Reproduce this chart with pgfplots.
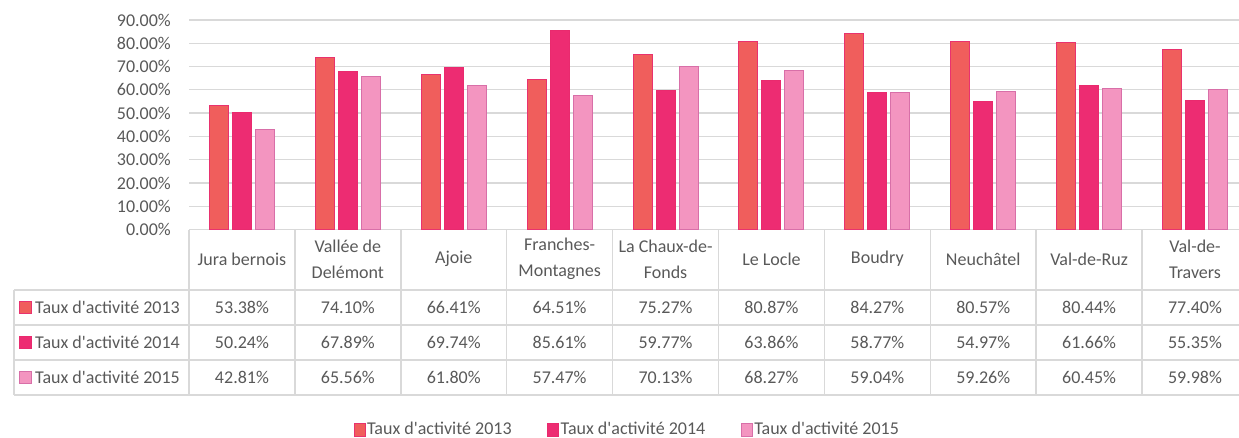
\documentclass[border=0pt]{standalone}
\usepackage{pgfplots}
\pgfplotsset{compat=1.18}
\usepackage{pgfplotstable}
\usepackage{fontspec}
\setmainfont{Carlito}[Ligatures=TeXOff]
\definecolor{txt}{RGB}{89,89,89}
\definecolor{gridc}{RGB}{217,217,217}
\definecolor{cA}{RGB}{240,94,92}
\definecolor{cAb}{RGB}{233,50,110}
\definecolor{cB}{RGB}{237,44,114}
\definecolor{cBb}{RGB}{233,42,110}
\definecolor{cC}{RGB}{243,149,192}
\definecolor{cCb}{RGB}{216,111,168}
\newcommand\f{\fontsize{18}{26}\selectfont}
\pgfplotstableread{
idx a b c
0 53.38 50.24 42.81
1 74.10 67.89 65.56
2 66.41 69.74 61.80
3 64.51 85.61 57.47
4 75.27 59.77 70.13
5 80.87 63.86 68.27
6 84.27 58.77 59.04
7 80.57 54.97 59.26
8 80.44 61.66 60.45
9 77.40 55.35 59.98
}\data
\pgfplotsset{
  sq/.style={legend image code/.code={\draw[##1,/tikz/.cd,line width=1pt] (0pt,-6.5pt) rectangle (11pt,6.5pt);}},
  txtrow/.style={only marks, mark=*, mark size=0pt, mark options={draw=none,fill=none}, forget plot,
    point meta=explicit,
    nodes near coords={\pgfmathprintnumber[fixed,fixed zerofill,precision=2]{\pgfplotspointmeta}\%},
    nodes near coords style={anchor=center, font=\f, text=txt, inner sep=0pt}},
}
\begin{document}
\begin{tikzpicture}[x=1pt,y=1pt]
\f
\useasboundingbox (0,0) rectangle (1239,437);
\begin{axis}[
  scale only axis, width=1059pt, height=209.5pt,
  at={(189pt,207.5pt)}, anchor=south west,
  xmin=-0.5, xmax=9.5, ymin=0, ymax=90,
  clip=false,
  axis line style={draw=none},
  major tick length=0pt,
  ytick={0,10,...,90},
  ymajorgrids, grid style={draw=gridc, line width=1.3pt},
  xtick={0,...,9},
  xticklabels={Jura bernois, {Vallée de\\Delémont}, Ajoie, {Franches-\\Montagnes}, {La Chaux-de-\\Fonds}, Le Locle, Boudry, Neuchâtel, Val-de-Ruz, {Val-de-\\Travers}},
  xticklabel style={align=center, anchor=center, yshift=-29.5pt, font=\f, text=txt},
  yticklabel={\pgfmathprintnumber[fixed,fixed zerofill,precision=2]{\tick}\%},
  yticklabel style={font=\f, text=txt, xshift=-12pt},
  /pgf/number format/assume math mode=true,
  legend columns=3,
  legend style={at={(0.4136,-0.957)}, anchor=center, draw=none, fill=none, font=\f, text=txt,
    /tikz/every even column/.append style={column sep=34pt},
    nodes={inner sep=1.5pt}},
]
\addplot[ybar, bar width=19pt, bar shift=-23pt, fill=cA, draw=cAb, line width=1pt, sq] table[x=idx,y=a]{\data};
\addlegendentry{Taux d'activité 2013}
\addplot[ybar, bar width=19pt, bar shift=0pt, fill=cB, draw=cBb, line width=1pt, sq] table[x=idx,y=b]{\data};
\addlegendentry{Taux d'activité 2014}
\addplot[ybar, bar width=19pt, bar shift=23pt, fill=cC, draw=cCb, line width=1pt, sq] table[x=idx,y=c]{\data};
\addlegendentry{Taux d'activité 2015}
\addplot[txtrow] table[x=idx, y expr=-33.51, meta=a]{\data};
\addplot[txtrow] table[x=idx, y expr=-48.54, meta=b]{\data};
\addplot[txtrow] table[x=idx, y expr=-63.58, meta=c]{\data};
\end{axis}
% table grid
\begin{scope}[draw=gridc, line width=1.5pt]
\foreach \yy in {147,112,77,42} \draw (14,\yy) -- (1250,\yy);
\draw (14,147) -- (14,42);
\foreach \k in {0,...,10} \draw ({189+\k*105.9},207.5) -- ({189+\k*105.9},42);
\end{scope}
% row labels
\draw[fill=cA, draw=cAb, line width=1pt] (19.5,123.5) rectangle (31.5,135.5);
\draw[fill=cB, draw=cBb, line width=1pt] (19.5,88.5) rectangle (31.5,100.5);
\draw[fill=cC, draw=cCb, line width=1pt] (19.5,53.5) rectangle (31.5,65.5);
\node[anchor=west, inner sep=0pt, text=txt, font=\f] at (35,129.5) {Taux d'activité 2013};
\node[anchor=west, inner sep=0pt, text=txt, font=\f] at (35,94.5) {Taux d'activité 2014};
\node[anchor=west, inner sep=0pt, text=txt, font=\f] at (35,59.5) {Taux d'activité 2015};
\end{tikzpicture}
\end{document}
